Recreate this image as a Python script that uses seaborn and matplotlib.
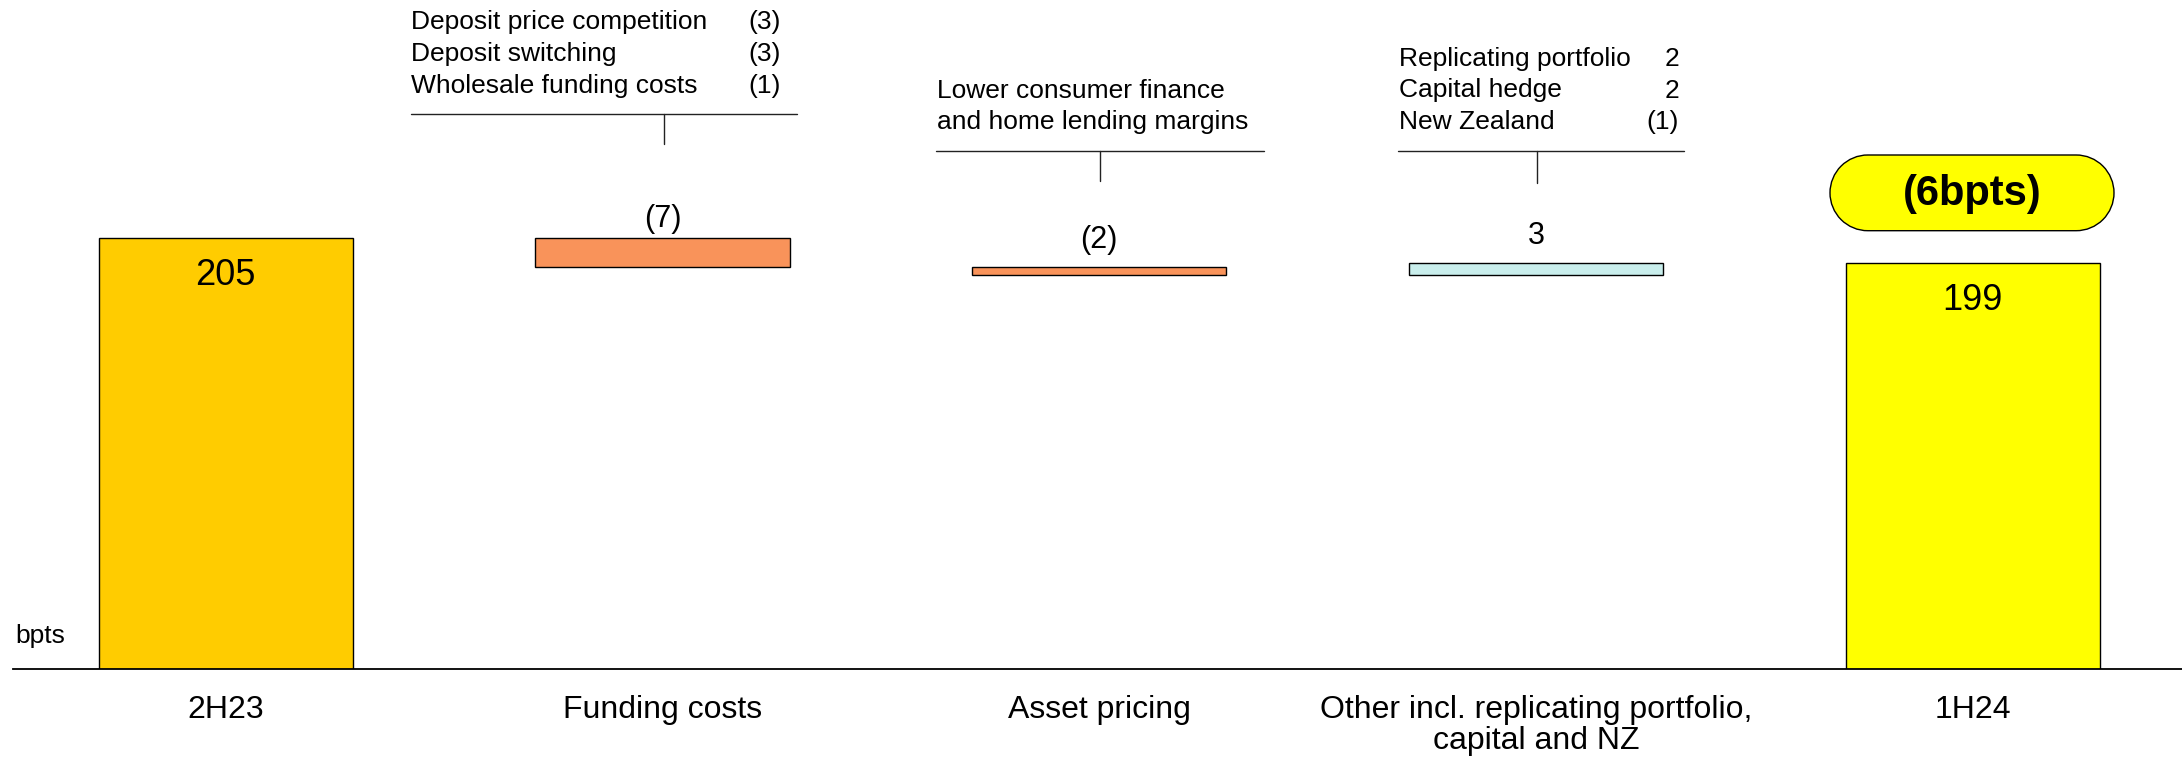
import matplotlib
matplotlib.use("Agg")
import matplotlib.pyplot as plt
from matplotlib.patches import PathPatch
from matplotlib.path import Path
from matplotlib.lines import Line2D
import numpy as np
import pandas as pd
import seaborn as sns

# Net interest margin walk (bpts)
categories = ["2H23", "Funding costs", "Asset pricing",
              "Other incl. replicating portfolio,\ncapital and NZ", "1H24"]
opening_nim = 205
movements = [-7, -2, 3]
closing_nim = 199

# Driver breakdowns shown above the movement bars
funding_items = ["Deposit price competition", "Deposit switching", "Wholesale funding costs"]
funding_values = [-3, -3, -1]
asset_note = ["Lower consumer finance", "and home lending margins"]
other_items = ["Replicating portfolio", "Capital hedge", "New Zealand"]
other_values = [2, 2, -1]

bar_colors = ["#FFCC00", "#F9935A", "#F9935A", "#C9EEEC", "#FFFF00"]


def fmt(v):
    return f"({abs(v)})" if v < 0 else f"{v}"


# Floating bar extents for the waterfall
levels = opening_nim + np.cumsum(movements)
prev = np.concatenate([[opening_nim], levels[:-1]])
tops = [opening_nim] + list(np.maximum(prev, levels)) + [closing_nim]
bottoms = [0] + list(np.minimum(prev, levels)) + [0]

sns.set_theme(style="white")
plt.rcParams["font.family"] = ["Liberation Sans", "DejaVu Sans"]
plt.rcParams["text.color"] = "black"

W, H = 2182, 761
fig = plt.figure(figsize=(W / 100, H / 100), dpi=100)
fig.patch.set_facecolor("white")
ax = fig.add_axes([13 / W, 92 / H, (W - 13) / W, 669 / H])

df = pd.DataFrame({"category": categories, "top": tops, "bottom": bottoms})
sns.barplot(data=df, x="category", y="top", hue="category", palette=bar_colors,
            saturation=1, width=0.582, edgecolor="black", linewidth=1.0,
            errorbar=None, legend=False, ax=ax)
for patch, b, t in zip(ax.patches, bottoms, tops):
    patch.set_y(b)
    patch.set_height(t - b)

ax.set_xlim(-0.487, 4.479)
ax.set_ylim(101.5, 262.06)
ax.set_xlabel("")
ax.set_ylabel("")
ax.set_yticks([])
sns.despine(ax=ax, left=True)
ax.spines["bottom"].set_color("black")
ax.spines["bottom"].set_linewidth(1.3)
ax.tick_params(axis="x", length=0, pad=18.5, labelsize=23, labelcolor="black")
for lab in ax.get_xticklabels():
    lab.set_linespacing(1.04)

# Totals labelled inside their bars
for i, v in [(0, opening_nim), (4, closing_nim)]:
    ax.annotate(str(v), xy=(i, v), xytext=(0, -47), textcoords="offset pixels",
                ha="center", va="baseline", fontsize=26)

# Movement labels above each floating bar
label_gap = [11, 19, 19]
for k, v in enumerate(movements):
    ax.annotate(fmt(v), xy=(k + 1, tops[k + 1]), xytext=(0, label_gap[k]),
                textcoords="offset pixels", ha="center", va="baseline", fontsize=22)


def fx(x):
    return x / W


def fy(y):
    return 1 - y / H


def bracket(x0, x1, xm, y, y_end):
    kw = dict(transform=fig.transFigure, color="#222222", linewidth=1.0)
    fig.add_artist(Line2D([fx(x0), fx(x1)], [fy(y), fy(y)], **kw))
    fig.add_artist(Line2D([fx(xm), fx(xm)], [fy(y), fy(y_end)], **kw))


# Funding costs breakdown
for j, (name, v) in enumerate(zip(funding_items, funding_values)):
    yb = 29.3 + 31.7 * j
    fig.text(fx(411), fy(yb), name, ha="left", va="baseline", fontsize=19)
    fig.text(fx(781), fy(yb), fmt(v), ha="right", va="baseline", fontsize=19)
bracket(410.7, 796.7, 664, 114, 144)

# Asset pricing note
for j, line in enumerate(asset_note):
    fig.text(fx(936.7), fy(97.7 + 31.6 * j), line, ha="left", va="baseline", fontsize=19)
bracket(935.7, 1264, 1100, 150.7, 181)

# Other items breakdown
for j, (name, v) in enumerate(zip(other_items, other_values)):
    yb = 66 + 31.5 * j
    fig.text(fx(1399), fy(yb), name, ha="left", va="baseline", fontsize=19)
    fig.text(fx(1679), fy(yb), fmt(v), ha="right", va="baseline", fontsize=19)
bracket(1398, 1684, 1536.7, 150.7, 183.3)

# Unit label
fig.text(fx(15), fy(643), "bpts", ha="left", va="baseline", fontsize=19)


def stadium(x0, y0, w, h):
    """Pill outline (semicircular ends), in inches."""
    r = h / 2
    xl, xr, yc = x0 + r, x0 + w - r, y0 + r
    right = Path.arc(-90, 90)
    left = Path.arc(90, 270)
    verts = [(xl, y0), (xr, y0)]
    codes = [Path.MOVETO, Path.LINETO]
    verts += [(xr + r * px, yc + r * py) for px, py in right.vertices[1:]]
    codes += list(right.codes[1:])
    verts += [(xl, y0 + h)]
    codes += [Path.LINETO]
    verts += [(xl + r * px, yc + r * py) for px, py in left.vertices[1:]]
    codes += list(left.codes[1:])
    verts += [(xl, y0)]
    codes += [Path.CLOSEPOLY]
    return Path(verts, codes)


# Overall change callout
change = closing_nim - opening_nim
pill = PathPatch(stadium(18.30, (H - 230.7) / 100, 2.84, 0.757),
                 transform=fig.dpi_scale_trans, facecolor="#FFFF00",
                 edgecolor="black", linewidth=1.0)
fig.add_artist(pill)
fig.text(fx(1972), fy(194), f"({abs(change)}bpts)" if change < 0 else f"{change}bpts",
         ha="center", va="center", fontsize=30, fontweight="bold")

fig.savefig("out.png", dpi=100, facecolor="white")
